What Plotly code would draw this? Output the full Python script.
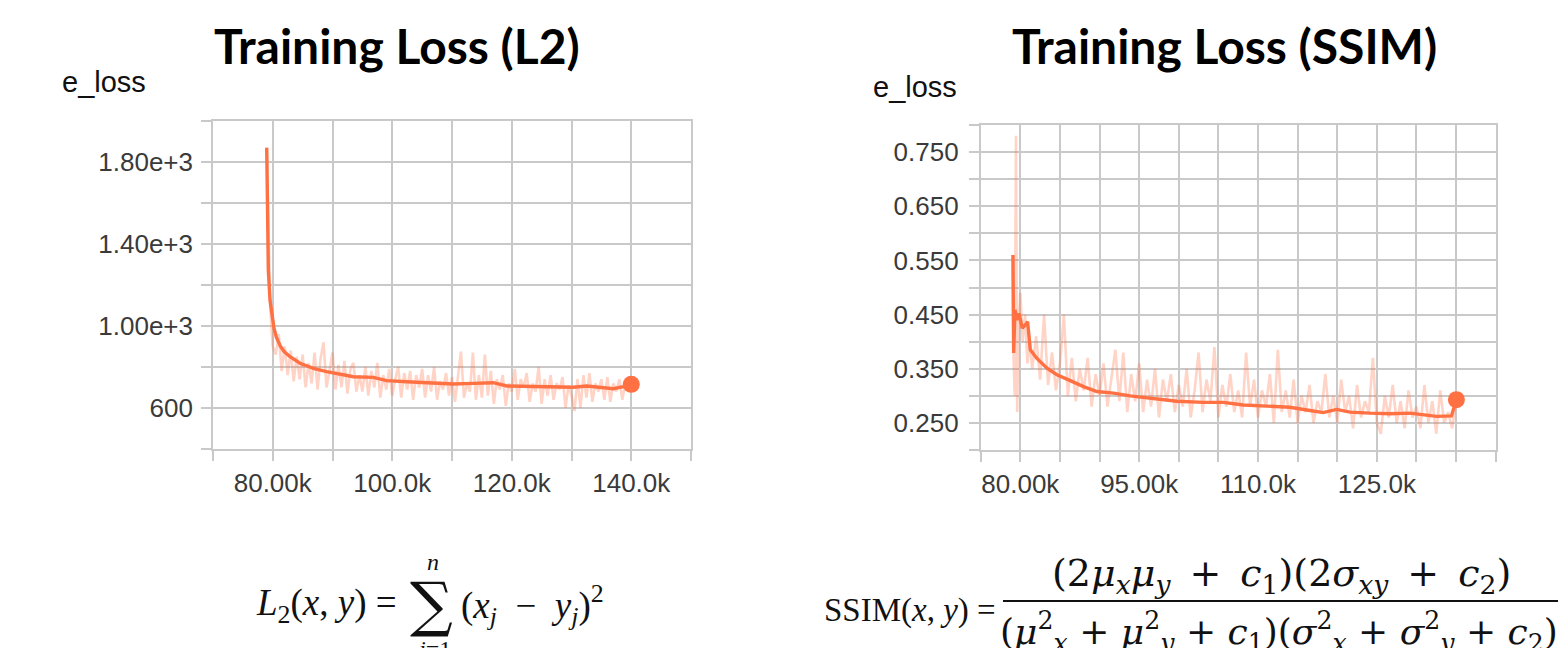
import plotly.graph_objects as go

W, H = 1558, 648

# ---------------- data: Training Loss (L2) ----------------
l2_smooth_steps = [78990, 79150, 79260, 79540, 79900, 80200, 80600, 81300, 81900, 82890,
                   84560, 86790, 89020, 91250, 93490, 96830, 99070, 102420, 106880, 110230,
                   113570, 116920, 119160, 122510, 126410, 130310, 132550, 134780, 137010,
                   138690, 140000]
l2_smooth_vals = [1868, 1560, 1272, 1126, 1040, 990, 945, 900, 875, 850,
                  818, 793, 777, 765, 752, 749, 733, 728, 723, 717,
                  720, 723, 707, 704, 704, 701, 707, 701, 694,
                  704, 715]

l2_raw_steps = [79000, 79200, 79400, 79600, 79800, 80000,
                80500, 81000, 81500, 82000, 82500, 83000, 83500, 84000, 84500, 85000,
                85500, 86000, 86500, 87000, 87500, 88000, 88500, 89000, 89500, 90000,
                90500, 91000, 91500, 92000, 92500, 93000, 93500, 94000, 94500, 95000,
                95500, 96000, 96500, 97000, 97500, 98000, 98500, 99000, 99500, 100000,
                100500, 101000, 101500, 102000, 102500, 103000, 103500, 104000, 104500, 105000,
                105500, 106000, 106500, 107000, 107500, 108000, 108500, 109000, 109500, 110000,
                110500, 111000, 111500, 112000, 112500, 113000, 113500, 114000, 114500, 115000,
                115500, 116000, 116500, 117000, 117500, 118000, 118500, 119000, 119500, 120000,
                120500, 121000, 121500, 122000, 122500, 123000, 123500, 124000, 124500, 125000,
                125500, 126000, 126500, 127000, 127500, 128000, 128500, 129000, 129500, 130000,
                130500, 131000, 131500, 132000, 132500, 133000, 133500, 134000, 134500, 135000,
                135500, 136000, 136500, 137000, 137500, 138000, 138500, 139000, 139500, 140000]
l2_raw_vals = [1870, 1550, 1250, 1080, 980, 900,
               860, 960, 780, 900, 760, 880, 730, 850, 740, 860,
               700, 820, 720, 870, 690, 840, 920, 700, 780, 870,
               690, 810, 700, 830, 670, 790, 820, 680, 760, 680,
               800, 660, 780, 700, 820, 650, 760, 690, 790, 660,
               740, 800, 650, 770, 690, 780, 640, 760, 700, 790,
               650, 760, 680, 800, 640, 730, 690, 770, 660, 750,
               630, 760, 875, 650, 720, 680, 870, 640, 760, 650,
               860, 660, 780, 620, 740, 690, 760, 610, 720, 680,
               790, 640, 740, 700, 770, 630, 720, 680, 800, 620,
               740, 660, 760, 640, 720, 690, 750, 600, 710, 660,
               585, 740, 600, 760, 650, 770, 630, 720, 680, 740,
               640, 750, 630, 720, 680, 740, 640, 720, 690, 710]

l2_y_ticks = [400, 600, 800, 1000, 1200, 1400, 1600, 1800, 2000]
l2_y_text = ["", "600", "", "1.00e+3", "", "1.40e+3", "", "1.80e+3", ""]
l2_x_ticks = [70000, 80000, 90000, 100000, 110000, 120000, 130000, 140000, 150000]
l2_x_text = ["", "80.00k", "", "100.0k", "", "120.0k", "", "140.0k", ""]

# ---------------- data: Training Loss (SSIM) ----------------
ssim_smooth_steps = [79076, 79160, 79330, 79580, 79830, 80250, 80630, 80920, 81260, 82100,
                     83360, 84620, 86300, 87980, 89660, 91760, 93870, 96390, 99750, 103110,
                     105630, 108150, 111510, 114030, 116550, 118240, 119920, 121600, 124120,
                     126640, 129160, 130840, 132520, 134410, 135040]
ssim_smooth_vals = [0.560, 0.379, 0.459, 0.440, 0.452, 0.425, 0.431, 0.437, 0.385, 0.369,
                    0.351, 0.339, 0.328, 0.317, 0.308, 0.305, 0.300, 0.296, 0.290, 0.288,
                    0.288, 0.283, 0.280, 0.279, 0.273, 0.269, 0.275, 0.270, 0.268,
                    0.267, 0.268, 0.265, 0.262, 0.263, 0.293]

ssim_raw_steps = [79000, 79150, 79300, 79450, 79600, 79800, 80000, 80300, 80600, 80900, 81200,
                  81500, 82000, 82500, 83000, 83500, 84000, 84500, 85000, 85500, 86000,
                  86500, 87000, 87500, 88000, 88500, 89000, 89500, 90000, 90500, 91000,
                  91500, 92000, 92500, 93000, 93500, 94000, 94500, 95000, 95500, 96000,
                  96500, 97000, 97500, 98000, 98500, 99000, 99500, 100000, 100500, 101000,
                  101500, 102000, 102500, 103000, 103500, 104000, 104500, 105000, 105500, 106000,
                  106500, 107000, 107500, 108000, 108500, 109000, 109500, 110000, 110500, 111000,
                  111500, 112000, 112500, 113000, 113500, 114000, 114500, 115000, 115500, 116000,
                  116500, 117000, 117500, 118000, 118500, 119000, 119500, 120000, 120500, 121000,
                  121500, 122000, 122500, 123000, 123500, 124000, 124500, 125000, 125500, 126000,
                  126500, 127000, 127500, 128000, 128500, 129000, 129500, 130000, 130500, 131000,
                  131500, 132000, 132500, 133000, 133500, 134000, 134500, 135000]
ssim_raw_vals = [0.56, 0.37, 0.30, 0.78, 0.27, 0.44, 0.49, 0.40, 0.45, 0.36, 0.40,
                 0.35, 0.41, 0.33, 0.45, 0.32, 0.38, 0.31, 0.36, 0.45, 0.30,
                 0.37, 0.29, 0.35, 0.31, 0.37, 0.28, 0.34, 0.30, 0.36, 0.28,
                 0.33, 0.385, 0.29, 0.38, 0.27, 0.34, 0.29, 0.36, 0.27, 0.33,
                 0.28, 0.35, 0.26, 0.33, 0.29, 0.34, 0.27, 0.32, 0.28, 0.35,
                 0.26, 0.31, 0.38, 0.27, 0.33, 0.29, 0.39, 0.26, 0.32, 0.28,
                 0.34, 0.27, 0.31, 0.26, 0.38, 0.28, 0.33, 0.26, 0.31, 0.28,
                 0.34, 0.25, 0.385, 0.27, 0.31, 0.26, 0.33, 0.25, 0.30, 0.27,
                 0.32, 0.25, 0.29, 0.27, 0.34, 0.26, 0.30, 0.25, 0.33, 0.27,
                 0.30, 0.24, 0.32, 0.26, 0.29, 0.27, 0.37, 0.25, 0.23, 0.30,
                 0.26, 0.32, 0.25, 0.29, 0.24, 0.31, 0.26, 0.28, 0.24, 0.32,
                 0.25, 0.29, 0.23, 0.31, 0.25, 0.27, 0.24, 0.29]

ssim_y_ticks = [0.20, 0.25, 0.30, 0.35, 0.40, 0.45, 0.50, 0.55, 0.60, 0.65, 0.70, 0.75, 0.80]
ssim_y_text = ["", "0.250", "", "0.350", "", "0.450", "", "0.550", "", "0.650", "", "0.750", ""]
ssim_x_ticks = [75000, 80000, 85000, 90000, 95000, 100000, 105000, 110000, 115000, 120000,
                125000, 130000, 135000, 140000]
ssim_x_text = ["", "80.00k", "", "", "95.00k", "", "", "110.0k", "", "", "125.0k", "", "", ""]

titles = ["Training Loss (L2)", "Training Loss (SSIM)"]
y_label = "e_loss"

# ---------------- styling ----------------
ORANGE = "#ff7043"
RAW = "rgba(255,112,67,0.30)"
GRID = "#c9c9c9"
TICKFONT = dict(family="Liberation Sans, Arial, sans-serif", size=26, color="#3a3a3a")


def px(x):
    return x / W


def py(y):
    return 1 - y / H


fig = go.Figure()

# L2 chart
fig.add_trace(go.Scatter(x=l2_raw_steps, y=l2_raw_vals, mode="lines",
                         line=dict(color=RAW, width=2.6), xaxis="x", yaxis="y"))
fig.add_trace(go.Scatter(x=l2_smooth_steps, y=l2_smooth_vals, mode="lines",
                         line=dict(color=ORANGE, width=3.4), xaxis="x", yaxis="y"))
fig.add_trace(go.Scatter(x=l2_smooth_steps[-1:], y=l2_smooth_vals[-1:], mode="markers",
                         marker=dict(color=ORANGE, size=17), xaxis="x", yaxis="y"))

# SSIM chart
fig.add_trace(go.Scatter(x=ssim_raw_steps, y=ssim_raw_vals, mode="lines",
                         line=dict(color=RAW, width=2.6), xaxis="x2", yaxis="y2"))
fig.add_trace(go.Scatter(x=ssim_smooth_steps, y=ssim_smooth_vals, mode="lines",
                         line=dict(color=ORANGE, width=3.4), xaxis="x2", yaxis="y2"))
fig.add_trace(go.Scatter(x=ssim_smooth_steps[-1:], y=ssim_smooth_vals[-1:], mode="markers",
                         marker=dict(color=ORANGE, size=17), xaxis="x2", yaxis="y2"))

axis_common = dict(showgrid=True, gridcolor=GRID, gridwidth=1.6,
                   showline=True, linecolor=GRID, linewidth=1.6, mirror=True,
                   ticks="outside", ticklen=10, tickcolor=GRID, tickwidth=1.6,
                   tickfont=TICKFONT, zeroline=False, tickmode="array")

fig.update_layout(
    width=W, height=H,
    margin=dict(l=0, r=0, t=0, b=0),
    paper_bgcolor="white", plot_bgcolor="white",
    showlegend=False, hovermode=False,
    xaxis=dict(domain=[px(213), px(691)], range=[70000, 150000], anchor="y",
               tickvals=l2_x_ticks, ticktext=l2_x_text, ticklabelstandoff=0, **axis_common),
    yaxis=dict(domain=[py(449), py(120.7)], range=[400, 2000], anchor="x",
               tickvals=l2_y_ticks, ticktext=l2_y_text, ticklabelstandoff=3, **axis_common),
    xaxis2=dict(domain=[px(980.7), px(1495.7)], range=[75000, 140000], anchor="y2",
                tickvals=ssim_x_ticks, ticktext=ssim_x_text, ticklabelstandoff=0, **axis_common),
    yaxis2=dict(domain=[py(450), py(125)], range=[0.2, 0.8], anchor="x2",
                tickvals=ssim_y_ticks, ticktext=ssim_y_text, ticklabelstandoff=5, **axis_common),
)

ann = []
TITLEFONT = dict(family="Lato, sans-serif", size=48, color="#000000")
ann.append(dict(text="<b>" + titles[0] + "</b>", x=px(397), y=py(46), xref="paper", yref="paper",
                xanchor="center", yanchor="middle", showarrow=False, font=TITLEFONT))
ann.append(dict(text="<b>" + titles[1] + "</b>", x=px(1224), y=py(46), xref="paper", yref="paper",
                xanchor="center", yanchor="middle", showarrow=False, font=TITLEFONT))

LABELFONT = dict(family="Liberation Sans, Arial, sans-serif", size=29, color="#111111")
ann.append(dict(text=y_label, x=px(60), y=py(82), xref="paper", yref="paper",
                xanchor="left", yanchor="middle", showarrow=False, font=LABELFONT))
ann.append(dict(text=y_label, x=px(871), y=py(87), xref="paper", yref="paper",
                xanchor="left", yanchor="middle", showarrow=False, font=LABELFONT))

# formulas
SERIF = "Liberation Serif, Times New Roman, serif"
MATH = dict(family=SERIF, size=37, color="#111111")
ann.append(dict(text="<i>L</i><sub>2</sub>(<i>x</i>, <i>y</i>) =", x=px(399), y=py(605),
                xref="paper", yref="paper", xanchor="right", yanchor="middle",
                showarrow=False, font=MATH))
ann.append(dict(text="\u2211", x=px(431), y=py(604), xref="paper", yref="paper",
                xanchor="center", yanchor="middle", showarrow=False,
                font=dict(family="DejaVu Serif, serif", size=60, color="#111111")))
ann.append(dict(text="<i>n</i>", x=px(433), y=py(562), xref="paper", yref="paper",
                xanchor="center", yanchor="middle", showarrow=False,
                font=dict(family=SERIF, size=24, color="#111111")))
ann.append(dict(text="<i>j</i>=1", x=px(433), y=py(649), xref="paper", yref="paper",
                xanchor="center", yanchor="middle", showarrow=False,
                font=dict(family=SERIF, size=24, color="#111111")))
ann.append(dict(text="(<i>x<sub>j</sub></i>\u2002\u2212\u2002<i>y<sub>j</sub></i>)<sup>2</sup>",
                x=px(459), y=py(605), xref="paper", yref="paper", xanchor="left",
                yanchor="middle", showarrow=False, font=MATH))

ann.append(dict(text="SSIM(<i>x</i>, <i>y</i>) =", x=px(998), y=py(610), xref="paper",
                yref="paper", xanchor="right", yanchor="middle", showarrow=False,
                font=dict(family=SERIF, size=33, color="#111111")))
NUMFONT = dict(family="DejaVu Serif, serif", size=38, color="#111111")
DENFONT = dict(family="DejaVu Serif, serif", size=36, color="#111111")
ann.append(dict(text="(2<i>\u03bc<sub>x</sub>\u03bc<sub>y</sub></i>\u2002+\u2002<i>c</i><sub>1</sub>)"
                     "(2<i>\u03c3<sub>xy</sub></i>\u2002+\u2002<i>c</i><sub>2</sub>)",
                x=px(1281), y=py(575), xref="paper", yref="paper", xanchor="center",
                yanchor="middle", showarrow=False, font=NUMFONT))
ann.append(dict(text="(<i>\u03bc</i><sup>2</sup><sub><i>x</i></sub> + <i>\u03bc</i><sup>2</sup><sub><i>y</i></sub>"
                     " + <i>c</i><sub>1</sub>)(<i>\u03c3</i><sup>2</sup><sub><i>x</i></sub> + "
                     "<i>\u03c3</i><sup>2</sup><sub><i>y</i></sub> + <i>c</i><sub>2</sub>)",
                x=px(1279), y=py(632), xref="paper", yref="paper", xanchor="center",
                yanchor="middle", showarrow=False, font=DENFONT))

fig.update_layout(annotations=ann)
fig.add_shape(type="line", xref="paper", yref="paper", x0=px(1003), x1=px(1558),
              y0=py(601), y1=py(601), line=dict(color="#111111", width=2))

fig.write_html("out.html", config={"displayModeBar": False},
               post_script="document.body.style.margin='0px';")
